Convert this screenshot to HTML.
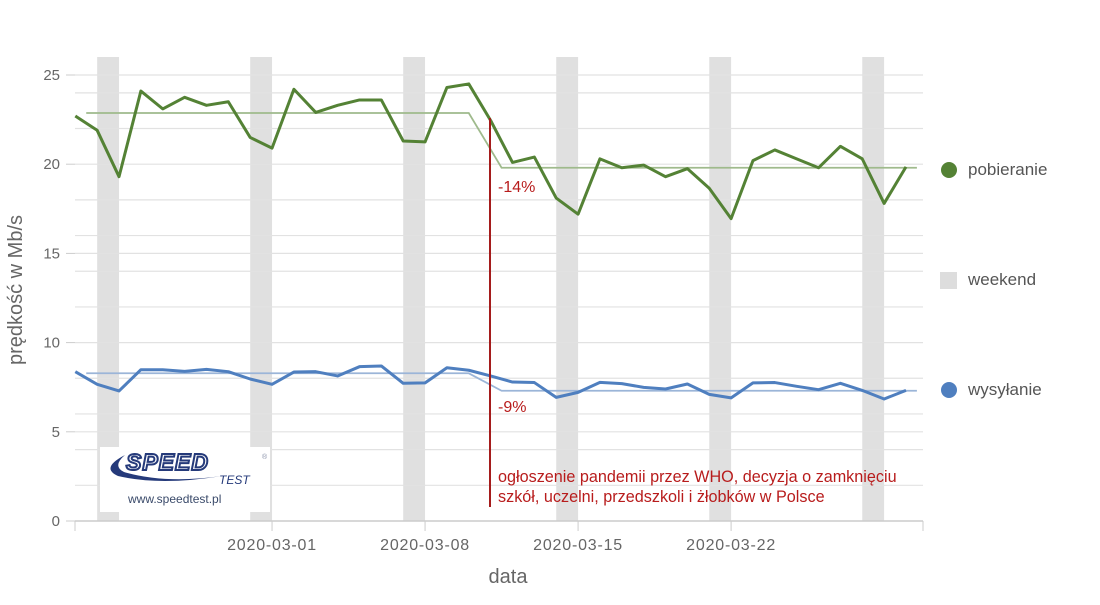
<!DOCTYPE html>
<html><head><meta charset="utf-8"><style>
body{margin:0;background:#fff;width:1100px;height:600px;overflow:hidden}
svg{font-family:"Liberation Sans",sans-serif}
</style></head><body>
<svg id="c" width="1100" height="600">
<g id="bg"></g>
<g id="grid"></g>
<g id="axes"></g>
<g id="marks"></g>
<line x1="490" y1="118" x2="490" y2="507" stroke="#a51c1c" stroke-width="2"/>
<text x="498" y="192" fill="#b81c1c" font-size="16">-14%</text>
<text x="498" y="412" fill="#b81c1c" font-size="16">-9%</text>
<text x="498" y="482" fill="#b81c1c" font-size="16.2">ogłoszenie pandemii przez WHO, decyzja o zamknięciu</text>
<text x="498" y="502" fill="#b81c1c" font-size="16.2">szkół, uczelni, przedszkoli i żłobków w Polsce</text>
<g>
<rect x="100" y="447" width="170" height="65" fill="#fff"/>
<path d="M125 455 Q100 468 118 476 Q160 486 222 476 Q165 484 124 472 Q112 466 125 455Z" fill="#253a7a"/>
<text x="126" y="470" font-size="23" font-style="italic" font-weight="bold" fill="#fff" stroke="#253a7a" stroke-width="2" letter-spacing="1">SPEED</text>
<text x="262" y="459" font-size="7" fill="#8890a8">®</text>
<text x="219" y="484" font-size="12" font-style="italic" fill="#253a7a">TEST</text>
<text x="128" y="503" font-size="12" fill="#3a4a6a">www.speedtest.pl</text>
</g>
<text transform="translate(22,290) rotate(-90)" text-anchor="middle" font-size="20" fill="#666">prędkość w Mb/s</text>
<text x="508" y="583" text-anchor="middle" font-size="20" fill="#666">data</text>
<g>
<circle cx="949" cy="170" r="8" fill="#548235"/>
<text x="968" y="175" font-size="17" fill="#555">pobieranie</text>
<rect x="940" y="272" width="17" height="17" fill="#ddd"/>
<text x="968" y="285" font-size="17" fill="#555">weekend</text>
<circle cx="949" cy="390" r="8" fill="#4f7fbf"/>
<text x="968" y="395" font-size="17" fill="#555">wysyłanie</text>
</g>
</svg>
<script>
const download=[22.7,21.9,19.3,24.1,23.1,23.75,23.3,23.5,21.5,20.9,24.2,22.9,23.3,23.6,23.6,21.3,21.25,24.3,24.5,22.45,20.1,20.4,18.1,17.2,20.3,19.8,19.95,19.3,19.75,18.65,16.95,20.2,20.8,20.3,19.8,21.0,20.3,17.8,19.85];
const upload=[8.37,7.66,7.29,8.48,8.48,8.39,8.5,8.37,7.96,7.66,8.35,8.37,8.13,8.65,8.69,7.72,7.74,8.59,8.45,8.13,7.79,7.76,6.93,7.21,7.77,7.7,7.49,7.4,7.68,7.1,6.9,7.74,7.76,7.55,7.36,7.72,7.32,6.84,7.32];
const avgDownload=[22.87,19.8];
const avgUpload=[8.28,7.3];
const weekendStarts=[1,8,15,22,29,36];
const xTickIdx=[9,16,23,30];
const xTickLabels=["2020-03-01","2020-03-08","2020-03-15","2020-03-22"];
const yTicks=[0,5,10,15,20,25];
const yGrid=[2,4,6,8,12,14,16,18,22,24];
const breakIdx=19;
const NS="http://www.w3.org/2000/svg";
const X=i=>75.3+i*21.86, Y=v=>521-v*17.84;
function mk(t,a,p){const e=document.createElementNS(NS,t);for(const k in a)e.setAttribute(k,a[k]);p.appendChild(e);return e;}
const bg=document.getElementById('bg'),grid=document.getElementById('grid'),axes=document.getElementById('axes'),marks=document.getElementById('marks');
weekendStarts.forEach(i=>{const r=mk('rect',{x:X(i),y:57,width:X(i+1)-X(i),height:464,fill:'#e0e0e0'},bg);

});
yGrid.concat(yTicks.slice(1)).forEach(v=>{const l=mk('line',{x1:75,x2:923,y1:Y(v),y2:Y(v),stroke:'#e2e2e2','stroke-width':1.2},grid);

});
mk('line',{x1:75,x2:923,y1:521,y2:521,stroke:'#ccc','stroke-width':1.5},axes);
mk('line',{x1:75,x2:75,y1:521,y2:531,stroke:'#ccc'},axes);
mk('line',{x1:923,x2:923,y1:521,y2:531,stroke:'#ccc'},axes);
yTicks.forEach(v=>{mk('line',{x1:66,x2:75,y1:Y(v),y2:Y(v),stroke:'#ccc'},axes);
const t=mk('text',{x:60,y:Y(v)+5,'text-anchor':'end','font-size':15,fill:'#666'},axes);t.textContent=v;

});
xTickIdx.forEach((i,k)=>{mk('line',{x1:X(i),x2:X(i),y1:521,y2:531,stroke:'#ccc'},axes);
const t=mk('text',{x:X(i),y:550,'text-anchor':'middle','font-size':16,'letter-spacing':0.8,fill:'#666'},axes);t.textContent=xTickLabels[k];

});
function avg(a,col,name){const n=download.length;
const pts=[[X(0.5),Y(a[0])],[X(breakIdx-1),Y(a[0])],[X(breakIdx+0.5),Y(a[1])],[X(n-0.5),Y(a[1])]];
const p=mk('polyline',{points:pts.map(q=>q.join(',')).join(' '),fill:'none',stroke:col,'stroke-width':1.8},marks);

}
avg(avgDownload,'#9fba8c','download-average-line');
avg(avgUpload,'#9bb5d8','upload-average-line');
function line(d,col,name){const p=mk('polyline',{points:d.map((v,i)=>X(i)+','+Y(v)).join(' '),fill:'none',stroke:col,'stroke-width':3,'stroke-linejoin':'round'},marks);

}
line(download,'#548235','download-line');
line(upload,'#4f7fbf','upload-line');
</script>
</body></html>
